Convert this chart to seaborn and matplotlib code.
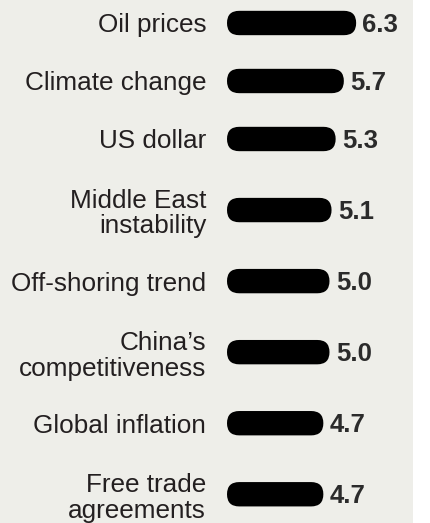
import numpy as np
import pandas as pd
import seaborn as sns
import matplotlib
matplotlib.use("Agg")
import matplotlib.pyplot as plt
from matplotlib.patches import FancyBboxPatch, Rectangle

# ---- data ----
labels = ["Oil prices", "Climate change", "US dollar", "Middle East\ninstability",
          "Off-shoring trend", "China\u2019s\ncompetitiveness", "Global inflation",
          "Free trade\nagreements"]
values = [6.3, 5.7, 5.3, 5.1, 5.0, 5.0, 4.7, 4.7]
value_labels = ["6.3", "5.7", "5.3", "5.1", "5.0", "5.0", "4.7", "4.7"]

# ---- style ----
BG = "#eeeee9"
TXT = "#231f20"
sns.set_style("white")
plt.rcParams["font.family"] = ["Liberation Sans", "DejaVu Sans"]

# row positions: two-line labels get taller rows
line_counts = [lab.count("\n") + 1 for lab in labels]
row_h = [1.0 if n == 1 else 1.45 for n in line_counts]
pos = [0.0]
for i in range(1, len(labels)):
    pos.append(pos[-1] + (row_h[i - 1] + row_h[i]) / 2)

df = pd.DataFrame({"value": values, "pos": pos, "label": labels})

W, H = 431, 523
fig = plt.figure(figsize=(W / 100, H / 100), dpi=100, facecolor="white")
fig.patches.append(Rectangle((0, 0), 413 / W, 1, transform=fig.transFigure,
                             facecolor=BG, edgecolor="none", zorder=-10))
ax_left_px, ax_right_px = 227, 413
ax = fig.add_axes([ax_left_px / W, 0, (ax_right_px - ax_left_px) / W, 1])
ax.set_facecolor("none")

sns.barplot(data=df, x="value", y="pos", orient="h", native_scale=True,
            width=0.42, color="black", saturation=1, ax=ax)

px_per_unit = 20.5
xmax = (ax_right_px - ax_left_px) / px_per_unit
ax.set_xlim(0, xmax)
row_px = 58.0
top_px = 23.0
ax.set_ylim((H - top_px) / row_px, -top_px / row_px)

# convert bars to rounded (pill) shapes
x_upp = xmax / (ax_right_px - ax_left_px)
y_upp = (H / row_px) / H
aspect = y_upp / x_upp
for p in list(ax.patches):
    x0, y0, w, h = p.get_x(), p.get_y(), p.get_width(), p.get_height()
    r = (h / y_upp) / 2 * x_upp
    fb = FancyBboxPatch((x0, y0), w, h,
                        boxstyle=f"round,pad=0,rounding_size={r}",
                        mutation_aspect=aspect, facecolor="black",
                        edgecolor="none", linewidth=0)
    p.remove()
    ax.add_patch(fb)

# value labels
for v, yp, t in zip(values, pos, value_labels):
    ax.annotate(t, xy=(v, yp), xytext=(4.5, -1.5), textcoords="offset points",
                ha="left", va="center", fontsize=18.5, fontweight="bold",
                color="#2b2b2b")

# category labels
ax.set_yticks(pos, labels=labels)
ax.tick_params(axis="y", length=0, pad=15, labelsize=18.8, labelcolor=TXT)
for t in ax.get_yticklabels():
    t.set_linespacing(1.1)
ax.set_xticks([])
ax.set_xlabel("")
ax.set_ylabel("")
for s in ax.spines.values():
    s.set_visible(False)

fig.savefig("out.png", dpi=100, facecolor="white")
